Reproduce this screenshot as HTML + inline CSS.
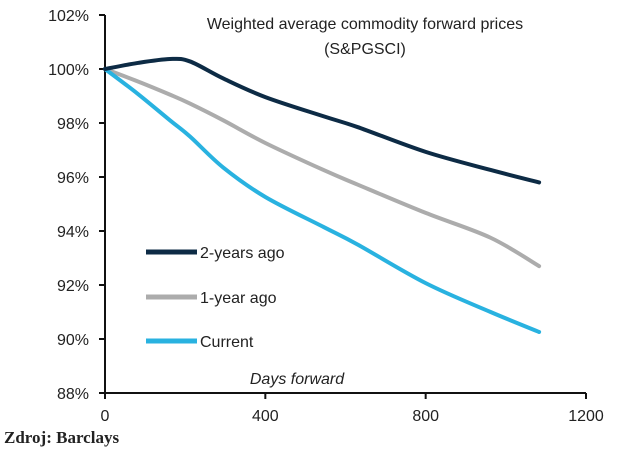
<!DOCTYPE html>
<html><head><meta charset="utf-8"><style>
body{margin:0;background:#fff;width:640px;height:463px;overflow:hidden}
svg text{font-family:"Liberation Sans",sans-serif;fill:#222}
</style></head><body>
<svg id="chart" width="640" height="463">
<g id="axes"></g>
<g id="series"></g>
<text x="365" y="29" font-size="16" text-anchor="middle">Weighted average commodity forward prices</text>
<text x="365" y="54" font-size="16" text-anchor="middle">(S&amp;PGSCI)</text>
<text x="297" y="384" font-size="16" font-style="italic" text-anchor="middle">Days forward</text>
<text x="4" y="443" font-size="17" font-weight="bold" style="font-family:'Liberation Serif',serif">Zdroj: Barclays</text>
<g>
<line x1="146" y1="252" x2="197" y2="252" stroke="#0d2b45" stroke-width="5"/>
<text x="200" y="258" font-size="16">2-years ago</text>
<line x1="146" y1="297" x2="197" y2="297" stroke="#acacac" stroke-width="5"/>
<text x="200" y="303" font-size="16">1-year ago</text>
<line x1="146" y1="341" x2="197" y2="341" stroke="#29b2e0" stroke-width="5"/>
<text x="200" y="347" font-size="16">Current</text>
</g>
</svg>
<script>
const days = [0, 80, 162, 212, 295, 400, 545, 630, 800, 962, 1083];
const twoYears = [100, 100.22, 100.37, 100.28, 99.65, 98.96, 98.25, 97.85, 96.93, 96.26, 95.8];
const oneYear = [100, 99.55, 99.05, 98.72, 98.1, 97.26, 96.26, 95.72, 94.67, 93.75, 92.7];
const current = [100, 99.1, 98.1, 97.5, 96.35, 95.26, 94.15, 93.5, 92.07, 91.0, 90.26];
const yTicks = [88, 90, 92, 94, 96, 98, 100, 102];
const xTicks = [0, 400, 800, 1200];
const X = d => 105 + d * (586 - 105) / 1200;
const Y = v => 393 - (v - 88) * (393 - 15) / 14;
const NS = "http://www.w3.org/2000/svg";
const axes = document.getElementById('axes');
function mk(tag, attrs, parent){const e=document.createElementNS(NS,tag);for(const k in attrs)e.setAttribute(k,attrs[k]);parent.appendChild(e);return e;}
const ya = mk('line',{x1:105,y1:15,x2:105,y2:393,stroke:'#111','stroke-width':2},axes);


const xa = mk('line',{x1:105,y1:393,x2:586,y2:393,stroke:'#111','stroke-width':2},axes);


yTicks.forEach(v=>{
  const t = mk('line',{x1:99,y1:Y(v),x2:105,y2:Y(v),stroke:'#111','stroke-width':2},axes);
  
  
  const l = mk('text',{x:89,y:Y(v)+6,'font-size':16,'text-anchor':'end'},axes);
  l.textContent = v + '%';
  
  
});
xTicks.forEach(d=>{
  const t = mk('line',{x1:X(d),y1:393,x2:X(d),y2:399,stroke:'#111','stroke-width':2},axes);
  
  
  const l = mk('text',{x:X(d),y:421,'font-size':16,'text-anchor':'middle'},axes);
  l.textContent = d;
  
  
});
function path(vals){
  const p = days.map((d,i)=>[X(d),Y(vals[i])]);
  let s = 'M'+p[0][0]+','+p[0][1];
  for(let i=0;i<p.length-1;i++){
    const p0=p[Math.max(0,i-1)],p1=p[i],p2=p[i+1],p3=p[Math.min(p.length-1,i+2)];
    const c1=[p1[0]+(p2[0]-p0[0])/6,p1[1]+(p2[1]-p0[1])/6];
    const c2=[p2[0]-(p3[0]-p1[0])/6,p2[1]-(p3[1]-p1[1])/6];
    s+=' C'+c1+' '+c2+' '+p2;
  }
  return s;
}
const ser = document.getElementById('series');
[[oneYear,'#acacac','line-1-year-ago'],[current,'#29b2e0','line-current'],[twoYears,'#0d2b45','line-2-years-ago']].forEach(([v,c,n])=>{
  const e = mk('path',{d:path(v),fill:'none',stroke:c,'stroke-width':4,'stroke-linecap':'round'},ser);
  
  
});
</script>
</body></html>
